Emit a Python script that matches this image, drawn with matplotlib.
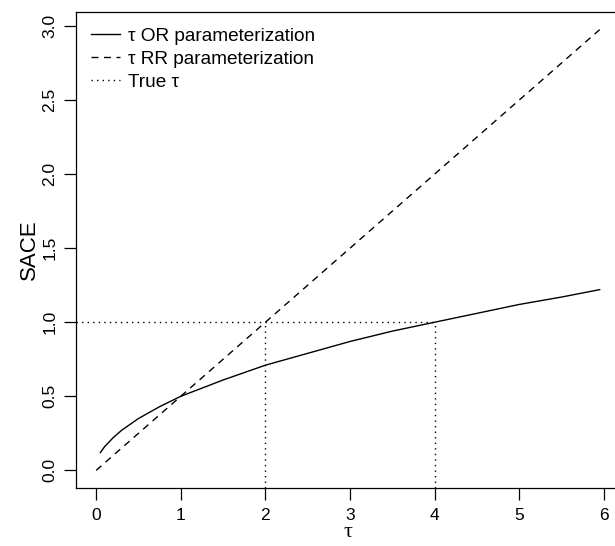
import matplotlib
matplotlib.use('Agg')
import matplotlib.pyplot as plt

plt.rcParams['font.family'] = ['Liberation Sans', 'DejaVu Sans']

# tau OR parameterization
tau_or = [0.05, 0.1, 0.2, 0.3, 0.5, 0.75, 1.0, 1.5, 2.0, 2.5, 3.0, 3.5,
          4.0, 4.5, 5.0, 5.5, 5.95]
sace_or = [0.12, 0.16, 0.22, 0.27, 0.35, 0.43, 0.50, 0.61, 0.71, 0.79,
           0.87, 0.94, 1.00, 1.06, 1.12, 1.17, 1.22]

# tau RR parameterization
tau_rr = [0.0, 1.0, 2.0, 3.0, 4.0, 5.0, 5.95]
sace_rr = [0.0, 0.5, 1.0, 1.5, 2.0, 2.5, 2.975]

# true tau reference
true_x = [2.0, 4.0]
true_y = 1.0

x_ticks = [0, 1, 2, 3, 4, 5, 6]
y_ticks = [0.0, 0.5, 1.0, 1.5, 2.0, 2.5, 3.0]
y_labels = ['0.0', '0.5', '1.0', '1.5', '2.0', '2.5', '3.0']

fig = plt.figure(figsize=(6.15, 5.46), dpi=100)
ax = fig.add_axes([76 / 615, 58 / 546, 544 / 615, 476 / 546])

xmin, xmax = -0.238, 6.19
ymin, ymax = -0.119, 3.094
ax.set_xlim(xmin, xmax)
ax.set_ylim(ymin, ymax)

ax.plot(tau_or, sace_or, color='black', lw=1.0, ls='-',
        label='\u03c4 OR parameterization')
ax.plot(tau_rr, sace_rr, color='black', lw=1.0, ls=(0, (5, 4)),
        label='\u03c4 RR parameterization')

dot = (0, (1, 3))
ax.plot([xmin, max(true_x)], [true_y, true_y], color='black', lw=1.0,
        ls=dot, label='True \u03c4')
for tx in true_x:
    ax.plot([tx, tx], [ymin, true_y], color='black', lw=1.0, ls=dot)

ax.set_xticks(x_ticks)
ax.set_yticks(y_ticks)
ax.set_yticklabels(y_labels, rotation=90, va='center')
ax.tick_params(direction='out', length=8.5, width=0.9, labelsize=12.5,
               pad=5)
ax.tick_params(axis='x', pad=6)
for s in ax.spines.values():
    s.set_linewidth(0.9)

ax.set_ylabel('SACE', fontsize=16, labelpad=2)
ax.set_xlabel('\u03c4', fontsize=16, family=['Liberation Serif'], labelpad=0)

ax.legend(loc='upper left', frameon=False, fontsize=13.7, handlelength=1.5,
          handletextpad=0.45, labelspacing=0.3, borderaxespad=0.4,
          borderpad=0.4)

fig.savefig('out.png', dpi=100)
